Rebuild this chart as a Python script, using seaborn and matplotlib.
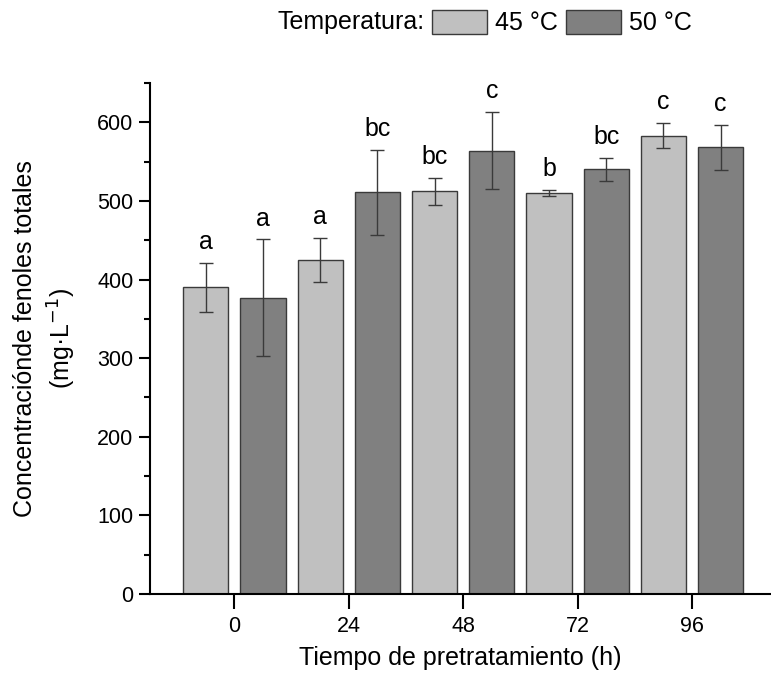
import matplotlib
matplotlib.use("Agg")
import matplotlib.pyplot as plt
import seaborn as sns
import pandas as pd

# Total phenolic concentration by pretreatment time and temperature
hours = ["0", "24", "48", "72", "96"]
temps = ["45 °C", "50 °C"]
mean_45 = [390, 425, 512, 510, 583]
mean_50 = [377, 511, 564, 540, 568]
sd_45 = [31.5, 27.5, 17, 4, 16]
sd_50 = [74, 54, 49, 15, 29]
letters_45 = ["a", "a", "bc", "b", "c"]
letters_50 = ["a", "bc", "c", "bc", "c"]

df = pd.DataFrame({
    "hora": hours * 2,
    "temp": [temps[0]] * len(hours) + [temps[1]] * len(hours),
    "valor": mean_45 + mean_50,
    "sd": sd_45 + sd_50,
    "letra": letters_45 + letters_50,
})

sns.set_style("ticks")
plt.rcParams["font.family"] = ["Liberation Sans", "DejaVu Sans"]
for key in ["text.color", "axes.labelcolor", "xtick.color", "ytick.color",
            "axes.edgecolor"]:
    plt.rcParams[key] = "black"

fig = plt.figure(figsize=(7.71, 6.75), dpi=100)
ax = fig.add_axes([150 / 771, 81 / 675, 1 - 150 / 771, (594 - 83) / 675])

palette = {temps[0]: "#c0c0c0", temps[1]: "#808080"}
sns.barplot(data=df, x="hora", y="valor", hue="temp", order=hours,
            hue_order=temps, palette=palette, width=1.0, gap=0.21,
            errorbar=None, edgecolor="#3a3a3a", linewidth=1.0,
            saturation=1, ax=ax)

# error bars and significance letters on each bar
bars = [p for p in ax.patches if p.get_height() > 0]
bars.sort(key=lambda p: p.get_x())
rows = []
for i in range(len(hours)):
    rows.append(df.iloc[i])
    rows.append(df.iloc[i + len(hours)])
for p, row in zip(bars, rows):
    xc = p.get_x() + p.get_width() / 2
    ax.errorbar(xc, row["valor"], yerr=row["sd"], fmt="none",
                ecolor="#3a3a3a", elinewidth=1.0, capsize=5, capthick=1.0)
    ax.annotate(row["letra"], (xc, row["valor"] + row["sd"]),
                xytext=(0, 10), textcoords="offset points",
                ha="center", va="baseline", fontsize=18, color="black")

ax.set_ylim(0, 650)
ax.set_xlim(-0.737, 4.69)
ax.set_yticks(range(0, 601, 100))
ax.set_yticks(range(50, 651, 100), minor=True)
ax.tick_params(axis="y", which="major", length=8, width=1.5, labelsize=15.5,
               pad=4, colors="black")
ax.tick_params(axis="y", which="minor", length=4.5, width=1.5, colors="black")
ax.tick_params(axis="x", which="major", length=11, width=1.5, labelsize=15.5,
               pad=5, colors="black")
for s in ["left", "bottom"]:
    ax.spines[s].set_linewidth(1.5)
    ax.spines[s].set_color("black")
sns.despine(ax=ax)

ax.set_xlabel("Tiempo de pretratamiento (h)", fontsize=18, labelpad=6,
              color="black")
ax.set_ylabel("Concentraciónde fenoles totales\n(mg·L$^{-1}$)", fontsize=18,
              labelpad=14, linespacing=1.35, color="black")

sns.move_legend(ax, "center left", bbox_to_anchor=(432 / 771, 1 - 22.5 / 675),
                bbox_transform=fig.transFigure, ncol=2, title=None,
                frameon=False, fontsize=18, borderpad=0, borderaxespad=0,
                handlelength=2.2, handleheight=1.08, handletextpad=0.32,
                columnspacing=0.32, labelcolor="black")
fig.text(425 / 771, 1 - 22.5 / 675, "Temperatura:", ha="right", va="center",
         fontsize=18, color="black")

fig.savefig("out.png", dpi=100)
